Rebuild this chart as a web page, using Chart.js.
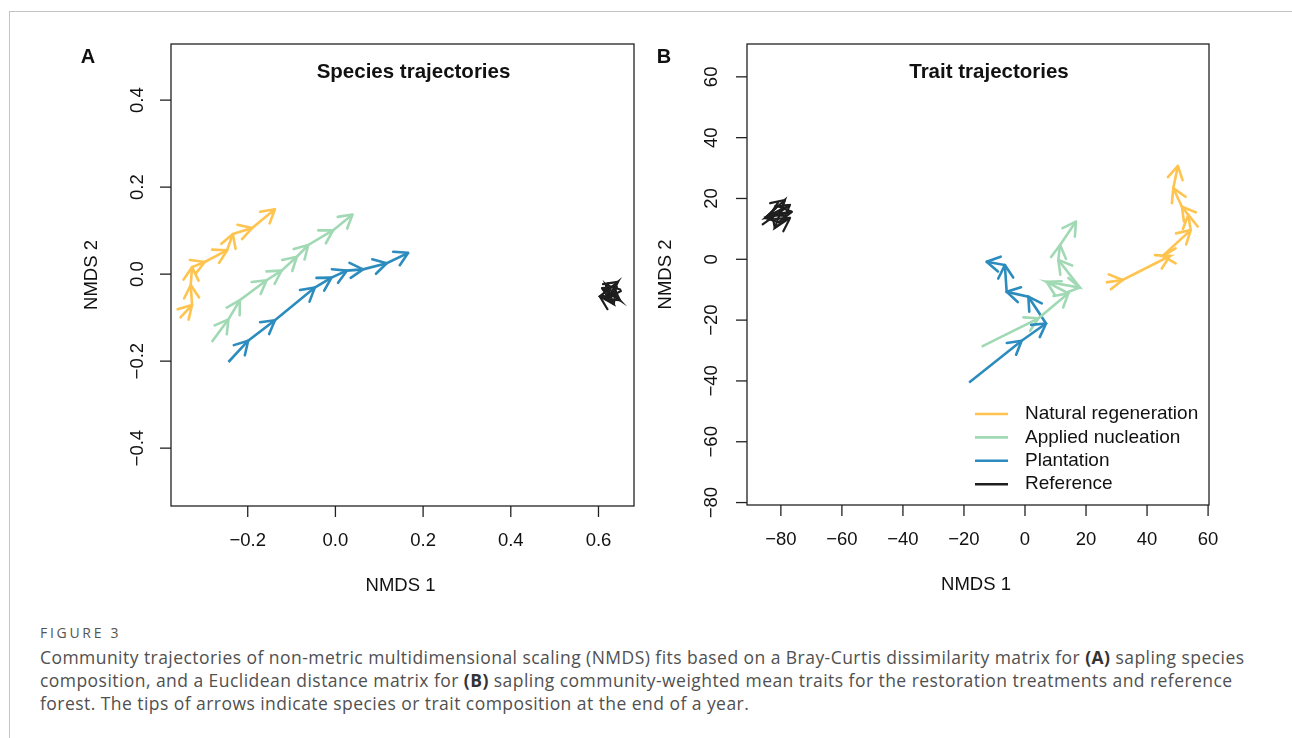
<!DOCTYPE html>
<html>
<head>
<meta charset="utf-8">
<script src="https://cdn.jsdelivr.net/npm/chart.js@4.4.0/dist/chart.umd.min.js"></script>
<style>
  html, body { margin: 0; padding: 0; background: #fff; }
  #page { position: relative; width: 1292px; height: 738px; overflow: hidden; }
  #frame { position: absolute; left: 9px; top: 11px; width: 1300px; height: 800px;
           border-left: 1px solid #c4c4c4; border-top: 1px solid #c4c4c4; }
  canvas { position: absolute; top: 0; }
  #chartA { left: 0; }
  #chartB { left: 646px; }
  .fig { position: absolute; left: 40px; top: 623px; font: 14px "Open Sans", sans-serif;
         color: #555; letter-spacing: 2.7px; }
  .cap { position: absolute; left: 40px; top: 646px; font: 17.5px "Open Sans", sans-serif;
         line-height: 23px; color: #505050; white-space: nowrap; letter-spacing: 0.45px; }
  .cap b { color: #333; }
</style>
</head>
<body>
<div id="page">
  <div id="frame"></div>
  <canvas id="chartA" width="646" height="610"></canvas>
  <canvas id="chartB" width="646" height="610"></canvas>
  <div class="fig">FIGURE 3</div>
  <div class="cap">Community trajectories of non-metric multidimensional scaling (NMDS) fits based on a Bray-Curtis dissimilarity matrix for <b>(A)</b> sapling species<br>composition, and a Euclidean distance matrix for <b>(B)</b> sapling community-weighted mean traits for the restoration treatments and reference<br>forest. The tips of arrows indicate species or trait composition at the end of a year.</div>
</div>

<script>
// series names and colours
var seriesNames = ['Natural regeneration', 'Applied nucleation', 'Plantation', 'Reference'];
var seriesColors = ['#FEC44F', '#A1D9B4', '#2C8CBE', '#1e1e1e'];

// A: species trajectories (NMDS 1, NMDS 2), one point per year
var speciesNatural = [[-0.355, -0.101], [-0.327, -0.071], [-0.330, -0.025], [-0.327, 0.016], [-0.298, 0.028],
                      [-0.247, 0.055], [-0.234, 0.092], [-0.190, 0.106], [-0.138, 0.149]];
var speciesNucleation = [[-0.282, -0.156], [-0.244, -0.104], [-0.218, -0.060], [-0.157, -0.014], [-0.123, 0.008],
                         [-0.088, 0.040], [-0.062, 0.067], [-0.005, 0.101], [0.039, 0.137]];
var speciesPlantation = [[-0.244, -0.202], [-0.199, -0.153], [-0.138, -0.106], [-0.047, -0.031], [-0.009, -0.008],
                         [0.026, 0.008], [0.063, 0.011], [0.117, 0.025], [0.166, 0.049]];
var speciesReference = [[0.626, -0.041], [0.608, -0.032], [0.649, -0.060], [0.617, -0.025], [0.635, -0.069],
                        [0.603, -0.051], [0.644, -0.018], [0.621, -0.055]];

// B: trait trajectories
var traitNatural = [[26.5, -7.6], [32.0, -6.8], [47.5, 1.1], [45.1, 1.1], [54.3, 9.6],
                    [53.5, 14.6], [51.4, 17.3], [48.6, 23.4], [50.1, 30.7]];
var traitNucleation = [[-14.2, -28.7], [4.4, -19.4], [14.2, -11.2], [7.1, -7.4], [18.0, -9.3],
                       [10.9, -0.2], [11.5, 4.7], [16.7, 12.4]];
var traitPlantation = [[-18.3, -40.5], [-1.1, -26.8], [6.9, -21.1], [1.1, -12.3], [-6.0, -10.7],
                       [-6.6, -1.9], [-12.6, -0.8]];
var traitReference = [[-86.2, 11.3], [-77.0, 17.9], [-83.6, 14.6], [-76.4, 15.6], [-85.2, 13.6],
                      [-78.7, 19.5], [-82.0, 10.3], [-77.0, 13.6]];

// tick values
var ticksA_x = [-0.2, 0.0, 0.2, 0.4, 0.6];
var ticksA_y = [-0.4, -0.2, 0.0, 0.2, 0.4];
var ticksB_x = [-80, -60, -40, -20, 0, 20, 40, 60];
var ticksB_y = [-80, -60, -40, -20, 0, 20, 40, 60];

var FONT = '"Liberation Sans", Arial, sans-serif';
var HEAD = 15, SPREAD = Math.PI / 6;

function minus(s) { return s.replace('-', '\u2212'); }

function toXY(arr) {
  return arr.map(function (p) { return { x: p[0], y: p[1] }; });
}

function makeDatasets(groups) {
  return groups.map(function (g, i) {
    return {
      label: seriesNames[i],
      data: toXY(g),
      showLine: true,
      borderColor: seriesColors[i],
      backgroundColor: seriesColors[i],
      borderWidth: i === 3 ? 2.2 : 2.6,
      pointRadius: 0,
      pointHoverRadius: 0,
      tension: 0
    };
  });
}

// arrowhead at the end of every yearly step
var arrowPlugin = {
  id: 'arrows',
  afterDatasetsDraw: function (chart) {
    var ctx = chart.ctx;
    chart.data.datasets.forEach(function (ds, di) {
      var pts = chart.getDatasetMeta(di).data;
      ctx.save();
      ctx.strokeStyle = ds.borderColor;
      ctx.lineWidth = ds.borderWidth;
      ctx.lineCap = 'round';
      for (var i = 1; i < pts.length; i++) {
        var a = pts[i - 1], b = pts[i];
        var ang = Math.atan2(b.y - a.y, b.x - a.x);
        ctx.beginPath();
        [-1, 1].forEach(function (s) {
          ctx.moveTo(b.x, b.y);
          ctx.lineTo(b.x - HEAD * Math.cos(ang + s * SPREAD), b.y - HEAD * Math.sin(ang + s * SPREAD));
        });
        ctx.stroke();
      }
      ctx.restore();
    });
  }
};

// R-style frame: box, outside ticks, rotated y labels, titles
var framePlugin = {
  id: 'frame',
  afterDraw: function (chart, args, o) {
    var ctx = chart.ctx, ca = chart.chartArea;
    var sx = chart.scales.x, sy = chart.scales.y;
    ctx.save();
    ctx.strokeStyle = '#222';
    ctx.lineWidth = 1.3;
    ctx.strokeRect(ca.left, ca.top, ca.right - ca.left, ca.bottom - ca.top);

    ctx.fillStyle = '#111';
    ctx.font = '18.5px ' + FONT;
    ctx.textAlign = 'center';
    ctx.textBaseline = 'middle';
    o.xTicks.forEach(function (v) {
      var px = sx.getPixelForValue(v);
      ctx.beginPath(); ctx.moveTo(px, ca.bottom); ctx.lineTo(px, ca.bottom + 11); ctx.stroke();
      ctx.fillText(minus(v.toFixed(o.digits)), px, ca.bottom + 35);
    });
    o.yTicks.forEach(function (v) {
      var py = sy.getPixelForValue(v);
      ctx.beginPath(); ctx.moveTo(ca.left, py); ctx.lineTo(ca.left - 11, py); ctx.stroke();
      ctx.save();
      ctx.translate(ca.left - o.yLabelOff, py);
      ctx.rotate(-Math.PI / 2);
      ctx.fillText(minus(v.toFixed(o.digits)), 0, 0);
      ctx.restore();
    });

    var cx = (ca.left + ca.right) / 2, cy = (ca.top + ca.bottom) / 2;
    ctx.fillText('NMDS 1', cx - 2, ca.bottom + 80);
    ctx.save();
    ctx.translate(ca.left - o.yTitleOff, cy);
    ctx.rotate(-Math.PI / 2);
    ctx.fillText('NMDS 2', 0, 0);
    ctx.restore();

    ctx.font = 'bold 20.5px ' + FONT;
    ctx.fillText(o.title, cx + 11, 72);
    ctx.font = 'bold 20px ' + FONT;
    ctx.fillText(o.letter, o.letterX, 57);

    if (o.legend) {
      ctx.font = '19px ' + FONT;
      ctx.textAlign = 'left';
      ctx.lineWidth = 2.6;
      seriesNames.forEach(function (name, i) {
        var y = ca.bottom - 91 + i * 23.4;
        ctx.strokeStyle = seriesColors[i];
        ctx.beginPath(); ctx.moveTo(ca.left + 228, y); ctx.lineTo(ca.left + 261, y); ctx.stroke();
        ctx.fillText(name, ca.left + 278, y);
      });
    }
    ctx.restore();
  }
};

function makeChart(id, groups, xr, yr, pad, frame) {
  return new Chart(document.getElementById(id), {
    type: 'scatter',
    data: { datasets: makeDatasets(groups) },
    options: {
      responsive: false,
      animation: false,
      devicePixelRatio: 1,
      layout: { padding: pad },
      scales: {
        x: { type: 'linear', display: false, min: xr[0], max: xr[1] },
        y: { type: 'linear', display: false, min: yr[0], max: yr[1] }
      },
      plugins: {
        legend: { display: false },
        tooltip: { enabled: false },
        frame: frame
      }
    },
    plugins: [arrowPlugin, framePlugin]
  });
}

makeChart('chartA',
  [speciesNatural, speciesNucleation, speciesPlantation, speciesReference],
  [-0.375, 0.681], [-0.533, 0.529],
  { left: 171, top: 44, right: 12, bottom: 104 },
  { xTicks: ticksA_x, yTicks: ticksA_y, digits: 1, yLabelOff: 33, yTitleOff: 79,
    title: 'Species trajectories', letter: 'A', letterX: 88, legend: false });

makeChart('chartB',
  [traitNatural, traitNucleation, traitPlantation, traitReference],
  [-91.1, 60.3], [-80.8, 70.8],
  { left: 101, top: 44, right: 83, bottom: 105 },
  { xTicks: ticksB_x, yTicks: ticksB_y, digits: 0, yLabelOff: 35, yTitleOff: 81,
    title: 'Trait trajectories', letter: 'B', letterX: 18, legend: true });
</script>
</body>
</html>
